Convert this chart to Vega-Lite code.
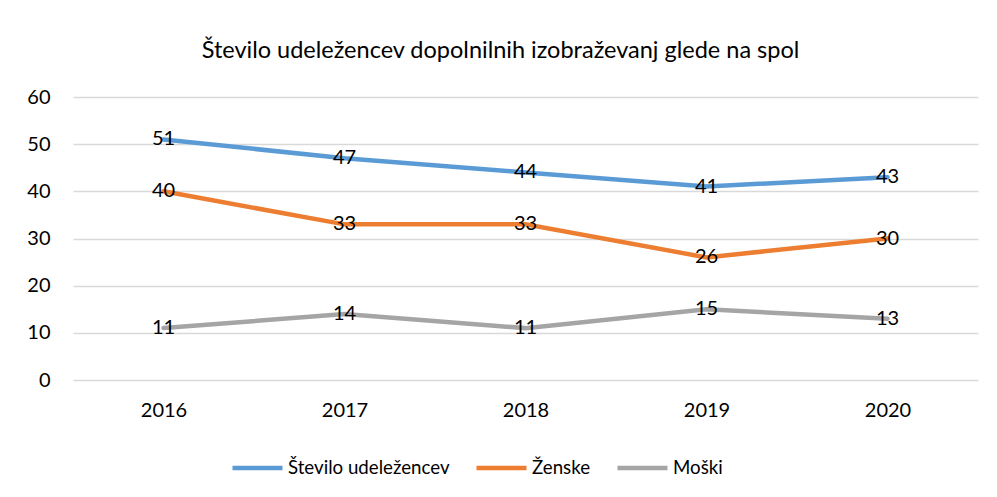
{
  "$schema": "https://vega.github.io/schema/vega-lite/v6.json",
  "width": 905,
  "height": 283,
  "autosize": {"type": "none"},
  "padding": {"left": 73, "top": 97, "right": 19, "bottom": 117},
  "background": "white",
  "title": {
    "text": "Število udeležencev dopolnilnih izobraževanj glede na spol",
    "anchor": "middle",
    "frame": "group",
    "dx": -25,
    "offset": 25,
    "font": "Lato",
    "fontSize": 23.5,
    "fontWeight": "normal",
    "color": "#000000"
  },
  "data": {
    "values": [
      {"leto": "2016", "serija": "Število udeležencev", "vrednost": 51},
      {"leto": "2017", "serija": "Število udeležencev", "vrednost": 47},
      {"leto": "2018", "serija": "Število udeležencev", "vrednost": 44},
      {"leto": "2019", "serija": "Število udeležencev", "vrednost": 41},
      {"leto": "2020", "serija": "Število udeležencev", "vrednost": 43},
      {"leto": "2016", "serija": "Ženske", "vrednost": 40},
      {"leto": "2017", "serija": "Ženske", "vrednost": 33},
      {"leto": "2018", "serija": "Ženske", "vrednost": 33},
      {"leto": "2019", "serija": "Ženske", "vrednost": 26},
      {"leto": "2020", "serija": "Ženske", "vrednost": 30},
      {"leto": "2016", "serija": "Moški", "vrednost": 11},
      {"leto": "2017", "serija": "Moški", "vrednost": 14},
      {"leto": "2018", "serija": "Moški", "vrednost": 11},
      {"leto": "2019", "serija": "Moški", "vrednost": 15},
      {"leto": "2020", "serija": "Moški", "vrednost": 13}
    ]
  },
  "encoding": {
    "x": {
      "field": "leto",
      "type": "ordinal",
      "scale": {"type": "point", "padding": 0.5},
      "axis": {
        "title": null,
        "labelAngle": 0,
        "ticks": false,
        "domain": false,
        "grid": false,
        "labelPadding": 20,
        "labelFont": "Lato",
        "labelFontSize": 20,
        "labelColor": "#000000"
      }
    },
    "y": {
      "field": "vrednost",
      "type": "quantitative",
      "scale": {"domain": [0, 60]},
      "axis": {
        "title": null,
        "values": [0, 10, 20, 30, 40, 50, 60],
        "ticks": false,
        "domain": false,
        "gridColor": "#D9D9D9",
        "gridWidth": 1.5,
        "labelPadding": 23,
        "labelFont": "Lato",
        "labelFontSize": 20,
        "labelColor": "#000000"
      }
    },
    "color": {
      "field": "serija",
      "type": "nominal",
      "sort": ["Število udeležencev", "Ženske", "Moški"],
      "scale": {
        "domain": ["Število udeležencev", "Ženske", "Moški"],
        "range": ["#5B9BD5", "#ED7D31", "#A5A5A5"]
      },
      "legend": {
        "title": null,
        "orient": "none",
        "legendX": 157,
        "legendY": 343,
        "direction": "horizontal",
        "symbolType": "stroke",
        "symbolSize": 2500,
        "symbolStrokeWidth": 4.5,
        "labelFont": "Lato",
        "labelFontSize": 18.7,
        "labelColor": "#000000",
        "labelOffset": 3,
        "labelLimit": 400,
        "columnPadding": 17
      }
    }
  },
  "layer": [
    {
      "mark": {"type": "line", "strokeWidth": 4.5, "strokeCap": "round"}
    },
    {
      "mark": {"type": "text", "font": "Lato", "fontSize": 20, "color": "#000000", "align": "center", "baseline": "middle"},
      "encoding": {
        "text": {"field": "vrednost", "type": "quantitative"},
        "color": {"value": "#000000"}
      }
    }
  ],
  "config": {
    "view": {"stroke": null}
  }
}
